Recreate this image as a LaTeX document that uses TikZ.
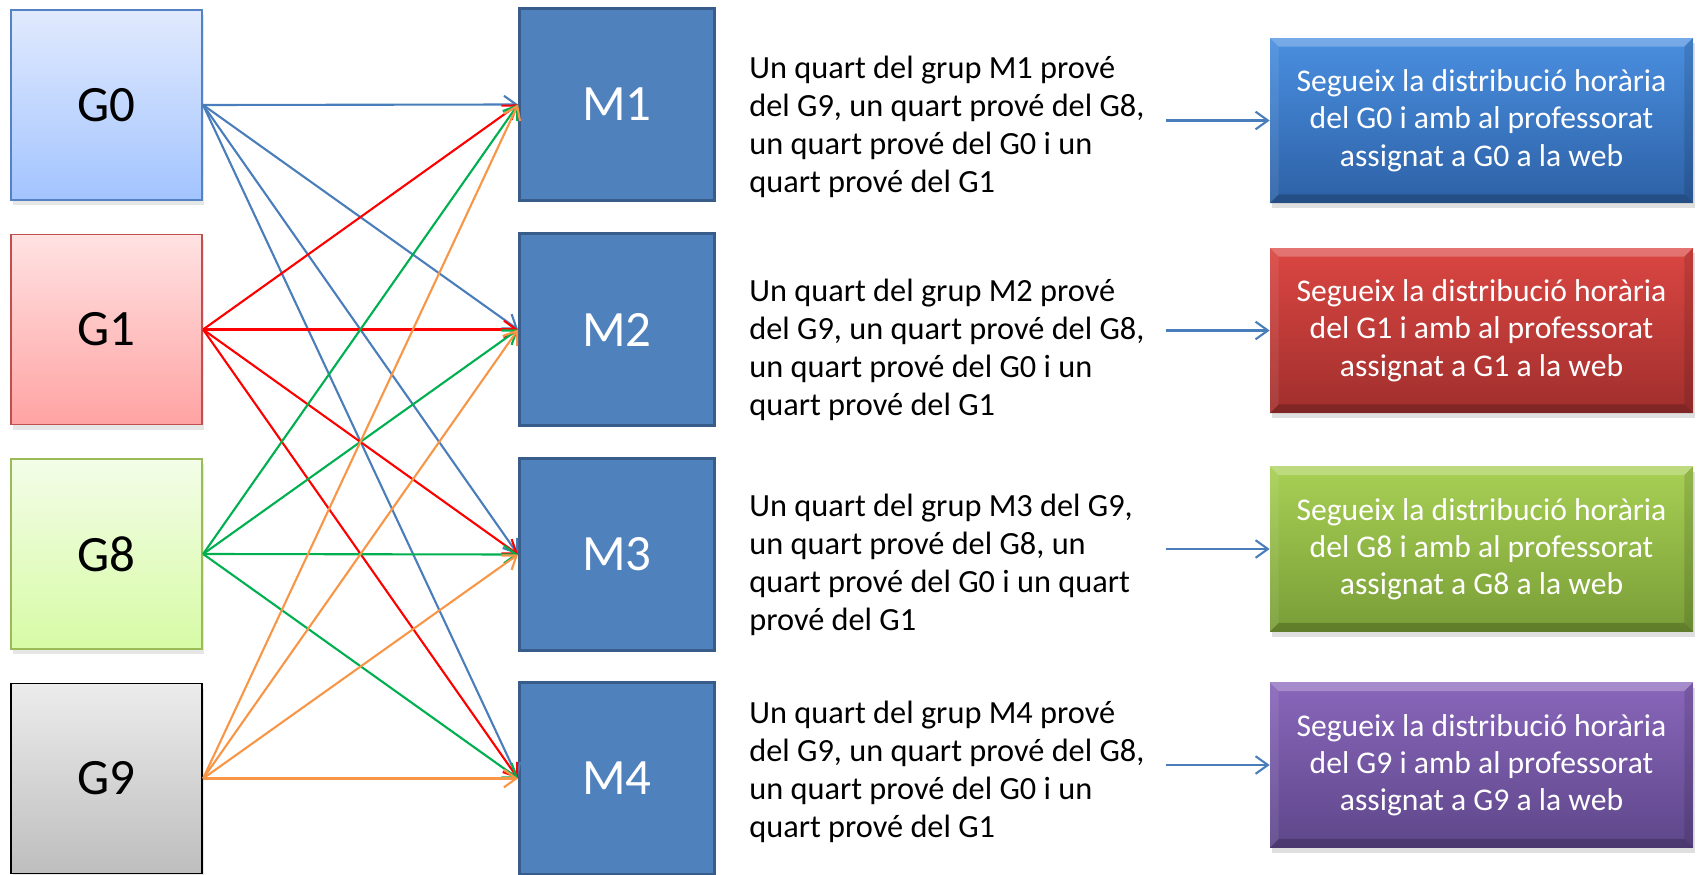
\documentclass[tikz,border=0pt]{standalone}
\usepackage{fontspec}
\setmainfont{Carlito}
\usetikzlibrary{positioning,arrows.meta,shadows}

\definecolor{gzeroTop}{RGB}{225,234,253}
\definecolor{gzeroBot}{RGB}{163,196,255}
\definecolor{gzeroLine}{RGB}{84,130,196}
\definecolor{goneTop}{RGB}{255,226,226}
\definecolor{goneBot}{RGB}{255,163,163}
\definecolor{goneLine}{RGB}{192,80,77}
\definecolor{geightTop}{RGB}{243,253,232}
\definecolor{geightBot}{RGB}{215,251,165}
\definecolor{geightLine}{RGB}{155,187,89}
\definecolor{gnineTop}{RGB}{236,236,236}
\definecolor{gnineBot}{RGB}{190,190,190}
\definecolor{mfill}{RGB}{79,129,189}
\definecolor{mborder}{RGB}{56,93,138}
\definecolor{lblue}{RGB}{74,126,187}
\definecolor{lred}{RGB}{255,0,0}
\definecolor{lgreen}{RGB}{0,176,80}
\definecolor{lorange}{RGB}{247,150,70}
\definecolor{rblueTop}{RGB}{74,143,224}
\definecolor{rblueBot}{RGB}{45,97,166}
\definecolor{rredTop}{RGB}{219,70,66}
\definecolor{rredBot}{RGB}{160,47,45}
\definecolor{rgreenTop}{RGB}{168,208,84}
\definecolor{rgreenBot}{RGB}{121,157,55}
\definecolor{rpurpleTop}{RGB}{137,102,187}
\definecolor{rpurpleBot}{RGB}{94,71,138}

\begin{document}
\begin{tikzpicture}[x=0.02cm,y=-0.02cm,
  gbox/.style={draw,line width=1pt,minimum width=3.83cm,minimum height=3.8cm,inner sep=0pt,
    font=\fontsize{29}{31}\selectfont,drop shadow={opacity=0.2,shadow xshift=1pt,shadow yshift=-3pt}},
  mbox/.style={draw=mborder,fill=mfill,line width=1.7pt,minimum width=3.9cm,minimum height=3.84cm,
    inner sep=0pt,text=white,font=\fontsize{29}{31}\selectfont},
  rbox/.style={minimum width=8.46cm,minimum height=3.3cm,inner sep=0pt,text=white,align=center,
    font=\fontsize{18}{21.2}\selectfont,drop shadow={opacity=0.25,shadow xshift=1pt,shadow yshift=-3pt}},
  note/.style={anchor=west,align=left,inner sep=0pt,font=\fontsize{18.4}{21.6}\selectfont},
  link/.style={line width=1.2pt,-{Straight Barb[length=7pt,width=10pt]}}]
\useasboundingbox (0,0) rectangle (1698,875);

\node[gbox,top color=gzeroTop,bottom color=gzeroBot,draw=gzeroLine] (g0) at (106.5,105) {G0};
\node[gbox,top color=goneTop,bottom color=goneBot,draw=goneLine] (g1) at (106.5,329.5) {G1};
\node[gbox,top color=geightTop,bottom color=geightBot,draw=geightLine] (g8) at (106.5,554) {G8};
\node[gbox,top color=gnineTop,bottom color=gnineBot,draw=black] (g9) at (106.5,778.5) {G9};

\node[mbox] (m1) at (617,104.5) {M1};
\node[mbox] (m2) at (617,329.5) {M2};
\node[mbox] (m3) at (617,554.5) {M3};
\node[mbox] (m4) at (617,778.5) {M4};

\foreach \g/\c in {g0/lblue,g1/lred,g8/lgreen,g9/lorange}
  \foreach \m in {m1,m2,m3,m4}
    \draw[link,\c] (\g.east) -- (\m.west);

\node[note] (t1) at (749,127) {Un quart del grup M1 prové\\del G9, un quart prové del G8,\\un quart prové del G0 i un\\quart prové del G1};
\node[note] (t2) at (749,350) {Un quart del grup M2 prové\\del G9, un quart prové del G8,\\un quart prové del G0 i un\\quart prové del G1};
\node[note] (t3) at (749,565) {Un quart del grup M3 del G9,\\un quart prové del G8, un\\quart prové del G0 i un quart\\prové del G1};
\node[note] (t4) at (749,772) {Un quart del grup M4 prové\\del G9, un quart prové del G8,\\un quart prové del G0 i un\\quart prové del G1};

\node[rbox,top color=rblueTop,bottom color=rblueBot] (r1) at (1481.5,120.5)
  {Segueix la distribució horària\\del G0 i amb al professorat\\assignat a G0 a la web};
\node[rbox,top color=rredTop,bottom color=rredBot] (r2) at (1481.5,330.5)
  {Segueix la distribució horària\\del G1 i amb al professorat\\assignat a G1 a la web};
\node[rbox,top color=rgreenTop,bottom color=rgreenBot] (r3) at (1481.5,549)
  {Segueix la distribució horària\\del G8 i amb al professorat\\assignat a G8 a la web};
\node[rbox,top color=rpurpleTop,bottom color=rpurpleBot] (r4) at (1481.5,765)
  {Segueix la distribució horària\\del G9 i amb al professorat\\assignat a G9 a la web};

% bevel edges of the right boxes
\foreach \r in {r1,r2,r3,r4}{
  \fill[white,opacity=0.25] (\r.north west) -- (\r.north east) -- ([shift={(-9,9)}]\r.north east)
    -- ([shift={(9,9)}]\r.north west) -- cycle;
  \fill[black,opacity=0.2] (\r.south west) -- (\r.south east) -- ([shift={(-9,-9)}]\r.south east)
    -- ([shift={(9,-9)}]\r.south west) -- cycle;
  \fill[black,opacity=0.12] (\r.north east) -- (\r.south east) -- ([shift={(-9,-9)}]\r.south east)
    -- ([shift={(-9,9)}]\r.north east) -- cycle;
  \fill[white,opacity=0.08] (\r.north west) -- (\r.south west) -- ([shift={(9,-9)}]\r.south west)
    -- ([shift={(9,9)}]\r.north west) -- cycle;
}

\coordinate (a1) at (1166,120.5);
\coordinate (a2) at (1166,330.5);
\coordinate (a3) at (1166,549);
\coordinate (a4) at (1166,765);
\foreach \i in {1,...,4}
  \draw[link,lblue] (a\i) -- (r\i.west);

\end{tikzpicture}
\end{document}
